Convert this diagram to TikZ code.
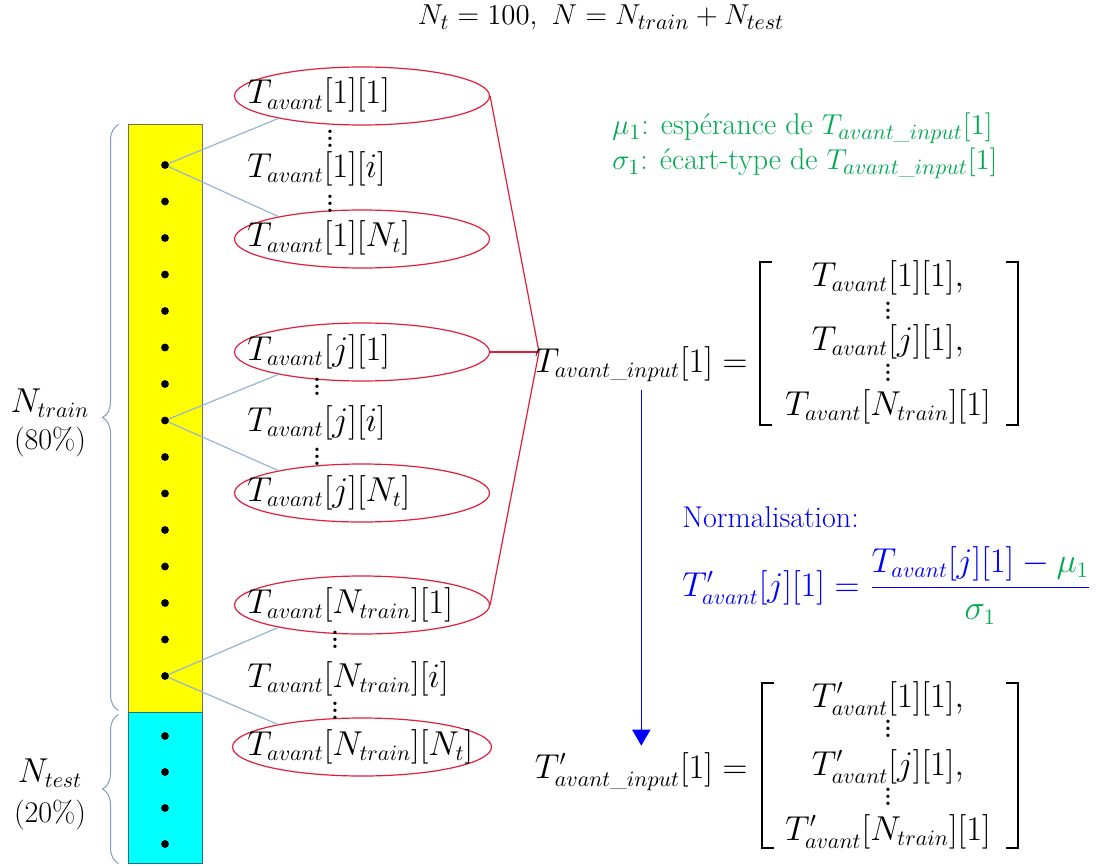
\documentclass[tikz,border=0pt]{standalone}
\usepackage{amsmath}
\usepackage{fontspec}
\usetikzlibrary{shapes.geometric,arrows.meta,decorations.pathreplacing}
\definecolor{ellred}{RGB}{225,30,60}
\definecolor{linkblue}{RGB}{150,180,215}
\definecolor{bracegray}{RGB}{130,155,190}
\definecolor{mugreen}{RGB}{0,170,80}
\definecolor{boxedge}{RGB}{110,110,90}
\definecolor{testedge}{RGB}{40,110,120}
\definecolor{normblue}{RGB}{0,0,255}
\definecolor{trainyellow}{RGB}{255,255,0}
\definecolor{testcyan}{RGB}{0,255,255}
\newcommand{\mfs}{\fontsize{16}{19}\selectfont}
\newcommand{\tfs}{\fontsize{15}{18}\selectfont}
\newcommand{\Tav}{T_{avant}}
\newcommand{\Tavp}{T'_{avant}}
\newcommand{\Tin}{T_{avant\text{\_}input}}
\newcommand{\Tinp}{T'_{avant\text{\_}input}}
\newcommand{\myvdots}{\vbox{\baselineskip3.6pt\lineskiplimit0pt\hbox{\fontsize{19}{19}\selectfont$.$}\hbox{\fontsize{19}{19}\selectfont$.$}\hbox{\fontsize{19}{19}\selectfont$.$}}}
\begin{document}
\begin{tikzpicture}[x=0.5pt,y=-0.5pt,
  every node/.style={font=\mfs, inner sep=0pt},
  databox/.style={draw, line width=0.5pt, minimum width=37pt},
  ell/.style={ellipse, draw=ellred, line width=0.6pt, minimum width=127.5pt, minimum height=29pt},
  item/.style={anchor=base west},
  vd/.style={anchor=center},
  dot/.style={circle, fill=black, minimum size=3.9pt},
  link/.style={draw=linkblue, line width=0.6pt},
  redlink/.style={draw=ellred, line width=0.6pt},
  sbrace/.style={draw=bracegray, line width=0.5pt, decorate, decoration={brace, amplitude=8pt}},
  brk/.style={line width=1.3pt},
  greentxt/.style={text=mugreen, font=\tfs, anchor=base west},
  pct/.style={font=\tfs, anchor=base},
  entry/.style={anchor=base},
  lhs/.style={anchor=base east, inner sep=2pt}
]
\useasboundingbox (0,0) rectangle (1096,866);

% title
\node[anchor=base, font=\fontsize{15.5}{18}\selectfont] (title) at (601,25) {$N_t = 100,\ N = N_{train} + N_{test}$};

% data column
\node[databox, draw=boxedge, fill=trainyellow, minimum height=293.5pt] (train) at (165,418.5) {};
\node[databox, draw=testedge, fill=testcyan, minimum height=75.5pt] (test) at (165,787.5) {};

% braces
\draw[sbrace] ([shift={(-4.5pt,1pt)}]train.south west) -- ([shift={(-4.5pt,0pt)}]train.north west);
\draw[sbrace] ([shift={(-4.5pt,0pt)}]test.south west) -- ([shift={(-4.5pt,-1.5pt)}]test.north west);
\node[anchor=base] (ntrain) at (50,412) {$N_{train}$};
\node[pct] (p80) at (50,449) {(80\%)};
\node[anchor=base] (ntest) at (50,782) {$N_{test}$};
\node[pct] (p20) at (50,822) {(20\%)};

% ellipses
\node[ell] (e1) at (362,96) {};
\node[ell] (e2) at (362,239) {};
\node[ell] (e3) at (362,352) {};
\node[ell] (e4) at (362,493) {};
\node[ell] (e5) at (362,605) {};
\node[ell, minimum width=129.5pt] (e6) at (362,747) {};

% dots positions
\foreach \k in {0,...,14} \coordinate (c\k) at (165,165+36.5*\k);

% links
\draw[link] (c0) -- (e1.195);
\draw[link] (c0) -- (e2.165);
\draw[link] (c7) -- (e3.195);
\draw[link] (c7) -- (e4.165);
\draw[link] (c14) -- (e5.195);
\draw[link] (c14) -- (e6.165);

% dots
\foreach \k in {0,...,14} \node[dot] (d\k) at (c\k) {};
\foreach \k in {0,...,3} \node[dot] (t\k) at (165,736+36*\k) {};

% ellipse texts
\node[item] (l1) at (247,104) {$\Tav[1][1]$};
\node[item] (l1i) at (247,177) {$\Tav[1][i]$};
\node[item] (l1n) at (247,247) {$\Tav[1][N_t]$};
\node[vd] (v1a) at (330,139) {\myvdots};
\node[vd] (v1b) at (330,204) {\myvdots};

\node[item] (lj) at (247,360) {$\Tav[j][1]$};
\node[item] (lji) at (247,431) {$\Tav[j][i]$};
\node[item] (ljn) at (247,501) {$\Tav[j][N_t]$};
\node[vd] (vja) at (317,387) {\myvdots};
\node[vd] (vjb) at (317,457) {\myvdots};

\node[item] (lN) at (247,613) {$\Tav[N_{train}][1]$};
\node[item] (lNi) at (247,687) {$\Tav[N_{train}][i]$};
\node[item] (lNn) at (247,755) {$\Tav[N_{train}][N_t]$};
\node[vd] (vNa) at (335,640) {\myvdots};
\node[vd] (vNb) at (335,711) {\myvdots};

% red connectors
\coordinate (J) at (539,352);
\draw[redlink] (e1.east) -- (J);
\draw[redlink] (e3.east) -- (J);
\draw[redlink] (e5.east) -- (J);

% green definitions
\node[greentxt] (mu) at (612,135) {$\mu_1$: espérance de $\Tin[1]$};
\node[greentxt] (sigma) at (612,170) {$\sigma_1$: écart-type de $\Tin[1]$};

% equation 1
\node[lhs] (lhs1) at (752,372) {$\Tin[1] =$};
\node[entry] (a1) at (888,286) {$\Tav[1][1],$};
\node[vd] (av1) at (888,311) {\myvdots};
\node[entry] (a2) at (888,350) {$\Tav[j][1],$};
\node[vd] (av2) at (888,373) {\myvdots};
\node[entry] (a3) at (888,415) {$\Tav[N_{train}][1]$};
\draw[brk] (772,262) -- (760,262) -- (760,425) -- (772,425);
\draw[brk] (1006,262) -- (1018,262) -- (1018,425) -- (1006,425);

% normalisation
\node[anchor=base west, text=normblue, font=\tfs] (norm) at (682,527) {Normalisation:};
\node[anchor=base west, text=normblue] (formula) at (682,596)
  {$\Tavp[j][1] = \dfrac{\Tav[j][1] - {\color{mugreen}\mu_1}}{{\color{mugreen}\sigma_1}}$};

% equation 2
\node[lhs] (lhs2) at (752,778) {$\Tinp[1] =$};
\node[entry] (b1) at (888,707) {$\Tavp[1][1],$};
\node[vd] (bv1) at (888,729) {\myvdots};
\node[entry] (b2) at (888,775) {$\Tavp[j][1],$};
\node[vd] (bv2) at (888,797) {\myvdots};
\node[entry] (b3) at (888,840) {$\Tavp[N_{train}][1]$};
\draw[brk] (774,683) -- (762,683) -- (762,848) -- (774,848);
\draw[brk] (1006,683) -- (1018,683) -- (1018,848) -- (1006,848);

% arrow
\draw[normblue, line width=0.8pt, -{Triangle[width=9pt,length=8pt]}, shorten <=2pt, shorten >=1pt]
  (lhs1.south) -- (lhs1.south |- lhs2.north);
\end{tikzpicture}
\end{document}
